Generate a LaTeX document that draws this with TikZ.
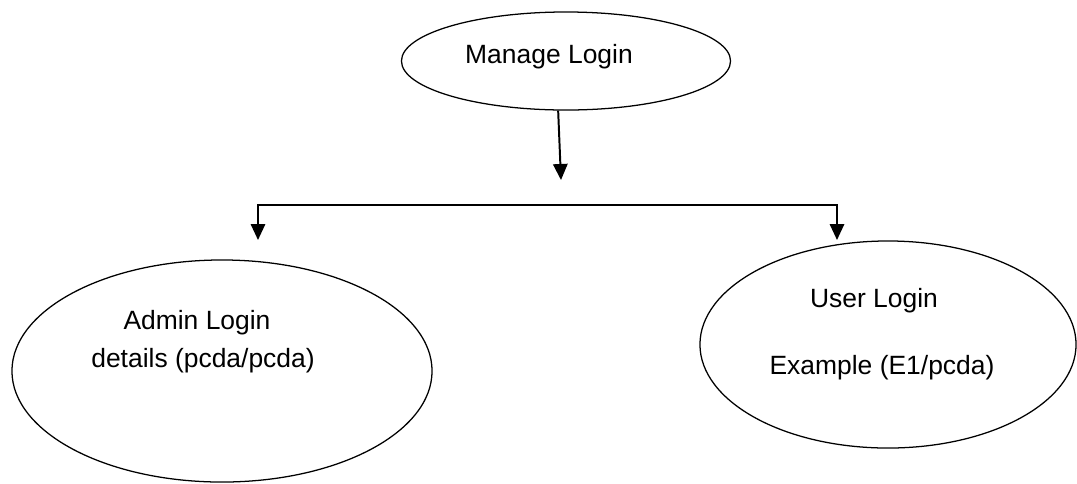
\documentclass[tikz,border=0pt]{standalone}
\usepackage{fontspec}
\setmainfont{Liberation Sans}
\usetikzlibrary{shapes.geometric,arrows.meta}
\tikzset{
  usecase/.style={
    shape = ellipse,
    draw,
    line width = 0.9pt,
    inner sep = 0pt
  },
  txt/.style={
    anchor = base,
    inner sep = 0pt
  },
  flow/.style={
    line width = 1.4pt,
    -{Triangle[length=0.4cm,width=0.36cm]}
  },
  twoflow/.style={
    line width = 1.4pt,
    {Triangle[length=0.4cm,width=0.36cm]}-{Triangle[length=0.4cm,width=0.36cm]}
  },
  every picture/.style = {
    font=\fontsize{18.8}{22}\selectfont
  }
}

\begin{document}
\begin{tikzpicture}[x=0.025cm,y=-0.025cm]
            \useasboundingbox (0,0) rectangle (1077,483);
            \node[usecase, minimum width=8.225cm, minimum height=2.45cm] (manage) at (566,61) {};
            \node[usecase, minimum width=10.5cm, minimum height=5.55cm] (admin) at (222,371) {};
            \node[usecase, minimum width=9.4cm, minimum height=5.175cm] (user) at (888,344.5) {};
            \node[txt] (tmanage) at (549,63) {Manage Login};
            \node[txt] (tadmin) at (197,329) {Admin Login};
            \node[txt] (tadmindet) at (203,367) {details (pcda/pcda)};
            \node[txt] (tuser) at (874,307) {User Login};
            \node[txt] (tuserdet) at (882,374) {Example (E1/pcda)};
            % arrow out of manage login
            \coordinate (down) at (561,180);
            \draw[flow] (manage.-99) -- (down);
            % fork to both logins
            \coordinate (forkr) at (837,205);
            \coordinate (admintip) at (258,240);
            \coordinate (usertip) at (837,240);
            \draw[twoflow] (admintip) |- (forkr) -- (usertip);
        \end{tikzpicture}
\end{document}
